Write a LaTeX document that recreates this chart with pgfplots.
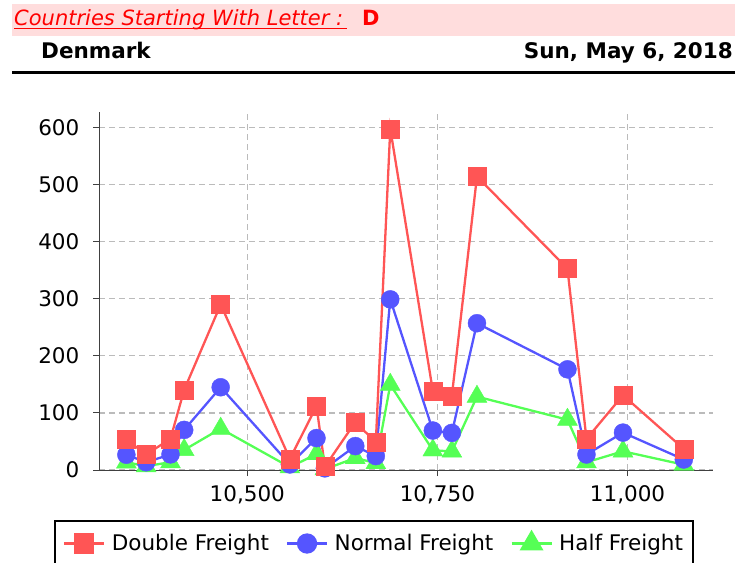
\documentclass[border=0pt]{standalone}
\usepackage{fontspec}
\setmainfont{DejaVu Sans}
\usepackage{pgfplots}
\usepackage{pgfplotstable}
\pgfplotsset{compat=1.18}
\definecolor{cred}{HTML}{FF5555}
\definecolor{cblue}{HTML}{5555FF}
\definecolor{cgreen}{HTML}{55FF55}
\definecolor{band}{HTML}{FFDDDD}
\definecolor{gridc}{HTML}{BBBBBB}
\definecolor{axc}{HTML}{404040}
\pgfplotstableread{
id normal double half
10341 26.78 53.56 13.39
10367 13.55 27.10 6.78
10399 27.36 54.72 13.68
10417 70.29 140.58 35.15
10465 145.04 290.08 72.52
10556 9.80 19.60 4.90
10591 55.92 111.84 27.96
10602 2.92 5.84 1.46
10642 41.89 83.78 20.95
10669 24.39 48.78 12.20
10688 299.09 598.18 149.55
10744 69.19 138.38 34.60
10769 65.06 130.12 32.53
10802 257.26 514.52 128.63
10921 176.48 352.96 88.24
10946 27.20 54.40 13.60
10994 65.53 131.06 32.77
11074 18.44 36.88 9.22
}\freight
\newcommand{\bigfont}{\fontsize{21.5}{26}\selectfont}
\newcommand{\titlefont}{\fontsize{21}{25}\selectfont}
\begin{document}
\begin{tikzpicture}[x=1pt,y=1pt,font=\bigfont]
\useasboundingbox (0,0) rectangle (749,562);
\fill[band] (12,526) rectangle (735,558);
\node[anchor=base west, inner sep=0pt, text=red, font=\titlefont\itshape] at (14,536) {Countries Starting With Letter :};
\draw[red, line width=1pt] (14,533.5) -- (347,533.5);
\node[anchor=base west, inner sep=0pt, text=red, font=\titlefont\bfseries] at (362,536) {D};
\node[anchor=base west, inner sep=0pt, font=\bigfont\bfseries] at (41,503) {Denmark};
\node[anchor=base east, inner sep=0pt, font=\bigfont\bfseries] at (733,503) {Sun, May 6, 2018};
\draw[line width=3pt] (12,489.3) -- (735,489.3);
\begin{axis}[
  at={(99pt,92pt)}, anchor=south west,
  scale only axis, width=613.7pt, height=358pt,
  xmin=10305, xmax=11112, ymin=0, ymax=627.5,
  axis x line*=bottom, axis y line*=left,
  axis line style={-, draw=axc, line width=1pt},
  grid=major,
  grid style={gridc, line width=1.2pt, dash pattern=on 6pt off 4pt},
  tick align=outside, major tick length=6pt,
  tick style={axc, line width=1pt},
  xtick={10500,10750,11000},
  ytick={0,100,200,300,400,500,600},
  scaled ticks=false,
  /pgf/number format/1000 sep={,},
  /pgf/number format/assume math mode=true,
  ticklabel style={font=\bigfont},
  xticklabel style={inner sep=0pt, yshift=-9pt},
  yticklabel style={inner sep=0pt, xshift=-13.5pt},
  legend image code/.code={\draw[mark repeat=2, mark phase=2] plot coordinates {(0pt,0pt) (20pt,0pt) (40pt,0pt)};},
  legend columns=3,
  legend style={at={(-0.0733,-0.1397)}, anchor=north west, draw=black, line width=2pt,
    font=\bigfont, inner xsep=8pt, inner ysep=11pt,
    /tikz/every odd column/.append style={column sep=4.5pt},
    /tikz/every even column/.append style={column sep=15pt}},
]
\addlegendimage{cred, line width=2.3pt, mark=square*, mark size=9pt, mark options={solid}}
\addlegendentry{Double Freight}
\addlegendimage{cblue, line width=2.3pt, mark=*, mark size=9pt, mark options={solid}}
\addlegendentry{Normal Freight}
\addlegendimage{cgreen, line width=2.3pt, mark=triangle*, mark size=11.5pt, mark options={solid}}
\addlegendentry{Half Freight}
\addplot[cgreen, line width=2.3pt, no marks, forget plot] table[x=id, y=half] {\freight};
\addplot[cblue, line width=2.3pt, no marks, forget plot] table[x=id, y=normal] {\freight};
\addplot[cred, line width=2.3pt, no marks, forget plot] table[x=id, y=double] {\freight};
\addplot[cgreen, only marks, mark=triangle*, mark size=11.5pt, forget plot] table[x=id, y=half] {\freight};
\addplot[cblue, only marks, mark=*, mark size=9pt, forget plot] table[x=id, y=normal] {\freight};
\addplot[cred, only marks, mark=square*, mark size=9pt, forget plot] table[x=id, y=double] {\freight};
\end{axis}
\end{tikzpicture}
\end{document}
